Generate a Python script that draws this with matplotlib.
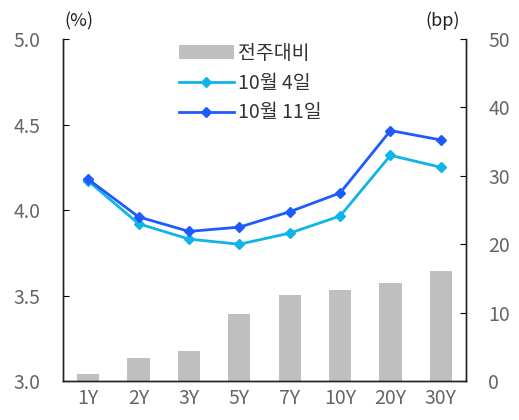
import matplotlib
matplotlib.use("Agg")
import matplotlib.pyplot as plt
import numpy as np

plt.rcParams['font.family'] = ['Noto Sans CJK KR', 'DejaVu Sans']

categories = ["1Y", "2Y", "3Y", "5Y", "7Y", "10Y", "20Y", "30Y"]
oct4 = [4.17, 3.92, 3.83, 3.80, 3.865, 3.965, 4.32, 4.25]
oct11 = [4.18, 3.96, 3.875, 3.90, 3.99, 4.10, 4.465, 4.41]
weekly_change = [1.0, 3.4, 4.4, 9.8, 12.6, 13.3, 14.4, 16.1]
left_ticks = [3.0, 3.5, 4.0, 4.5, 5.0]
right_ticks = [0, 10, 20, 30, 40, 50]

fig = plt.figure(figsize=(5.19, 4.2), dpi=100)
ax = fig.add_axes([0.1214, 0.0929, 0.7766, 0.814])
ax2 = ax.twinx()

x = np.arange(len(categories))
bars = ax2.bar(x, weekly_change, width=0.44, color="#BFBFBF", label="전주대비", zorder=1)
ax2.set_ylim(0, 50)
ax2.set_yticks(right_ticks)

ax.set_zorder(ax2.get_zorder() + 1)
ax.patch.set_visible(False)
l1, = ax.plot(x, oct4, color="#10B4E8", marker="D", markersize=5, lw=2, label="10월 4일")
l2, = ax.plot(x, oct11, color="#1E5BFF", marker="D", markersize=5, lw=2, label="10월 11일")
ax.set_ylim(3.0, 5.0)
ax.set_yticks(left_ticks)
ax.set_yticklabels([f"{v:.1f}" for v in left_ticks])
ax.set_xlim(-0.5, len(categories) - 0.5)
ax.set_xticks(x)
ax.set_xticklabels(categories)

tc = "#666666"
for a in (ax, ax2):
    a.spines['top'].set_visible(False)
    for s in a.spines.values():
        s.set_color("#222222")
        s.set_linewidth(1.0)
ax.tick_params(axis='y', direction='in', length=4, labelsize=14, labelcolor=tc, pad=16)
ax.tick_params(axis='x', length=0, labelsize=14, labelcolor=tc, pad=5)
ax2.tick_params(axis='y', direction='in', length=4, labelsize=14, labelcolor=tc, pad=16)

fig.text(0.125, 0.95, "(%)", fontsize=13, color="#222222", ha='left', va='center')
fig.text(0.887, 0.95, "(bp)", fontsize=13, color="#222222", ha='right', va='center')

ax.legend(handles=[bars, l1, l2], loc='upper left', bbox_to_anchor=(0.245, 1.04),
          frameon=False, fontsize=14, handlelength=2.8, handletextpad=0.2,
          labelspacing=0.45, labelcolor="#333333")

fig.savefig("out.png", dpi=100)
